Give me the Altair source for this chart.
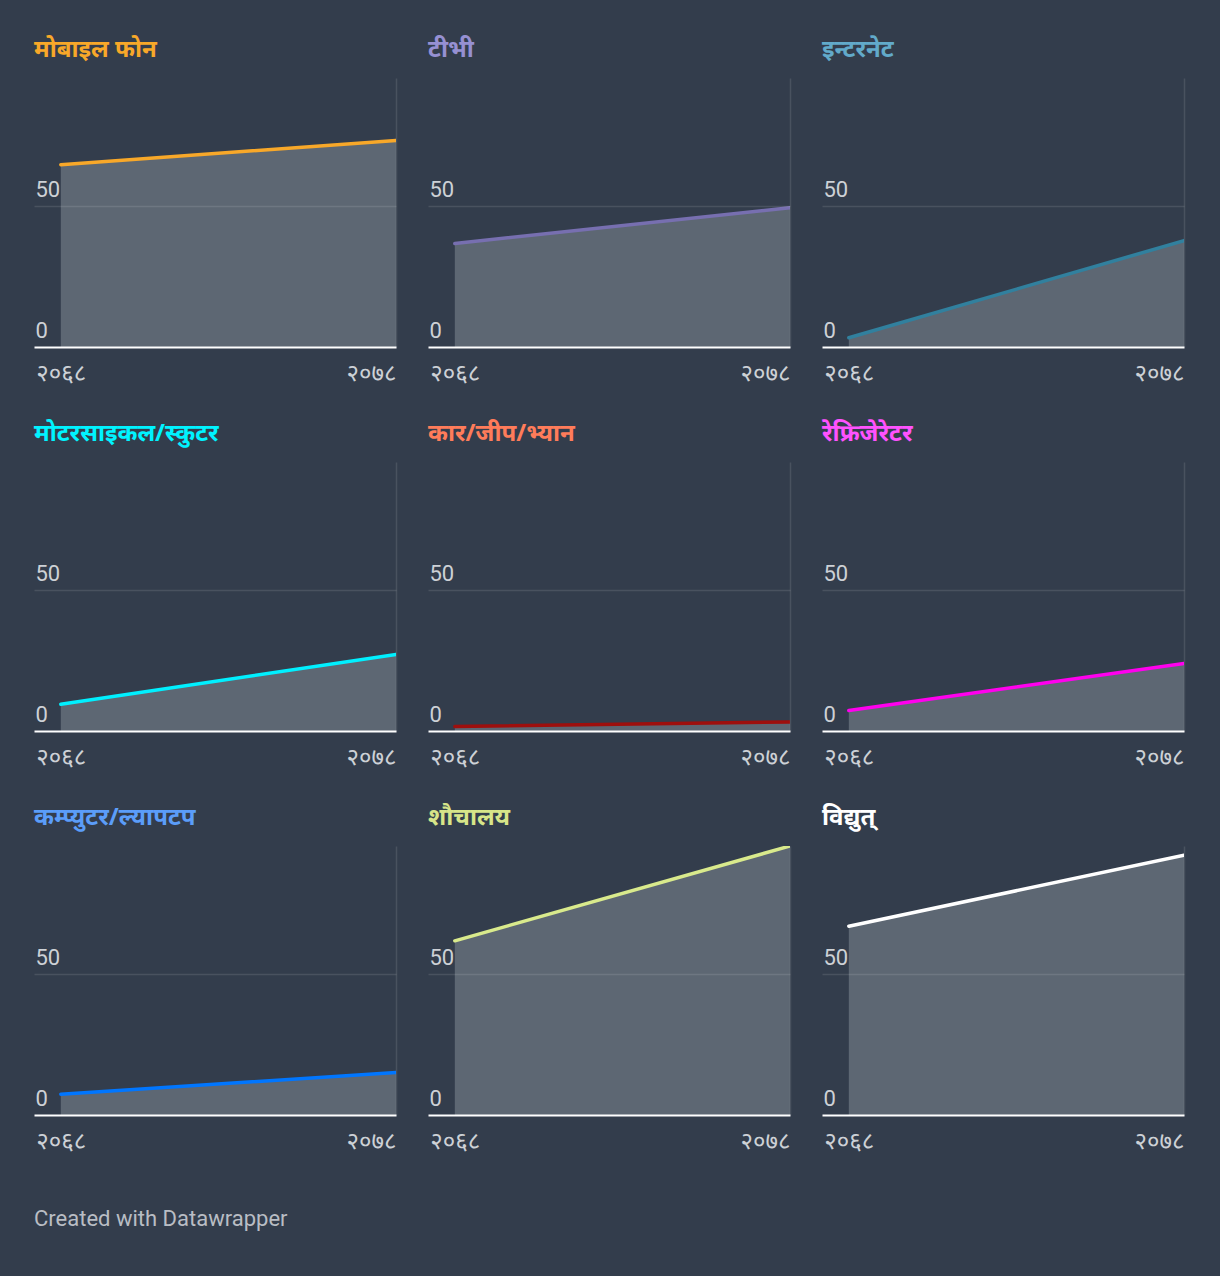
import altair as alt
import pandas as pd

categories = ["मोबाइल फोन", "टीभी", "इन्टरनेट", "मोटरसाइकल/स्कुटर", "कार/जीप/भ्यान",
              "रेफ्रिजेरेटर", "कम्प्युटर/ल्यापटप", "शौचालय", "विद्युत्"]
years = [2068, 2078]
year_labels = ["२०६८", "२०७८"]
values_2068 = [64.8, 36.8, 3.3, 9.5, 1.6, 7.3, 7.4, 61.9, 67.1]
values_2078 = [73.4, 49.5, 37.8, 27.2, 3.2, 24.0, 15.1, 95.6, 92.3]
title_colors = ["#f8a829", "#9690d2", "#62aaca", "#00f3ff", "#ff7c5a",
                "#ff52ff", "#5b9df9", "#d7e589", "#ffffff"]
line_colors = ["#f8a829", "#776fb0", "#31809e", "#00f0ff", "#9e0f0d",
               "#ff00ee", "#0076ff", "#d9ea8c", "#ffffff"]
y_ticks = [0, 50]

BG = "#333d4c"
AREA = "#5d6773"
LABEL = "#cdd1d6"
GRID = "rgba(255,255,255,0.11)"

ymax = max(values_2068 + values_2078)
label_expr = f"datum.value == {years[0]} ? '{year_labels[0]}' : '{year_labels[1]}'"

charts = []
for i, cat in enumerate(categories):
    df = pd.DataFrame({"year": years, "value": [values_2068[i], values_2078[i]]})
    xenc = alt.X(
        "year:Q",
        scale=alt.Scale(domain=[years[0] - 0.8, years[1]], nice=False, zero=False),
        axis=alt.Axis(
            values=years, title=None, domain=False, ticks=False, tickSize=0,
            labelExpr=label_expr, labelFont="Noto Sans", labelFontSize=24,
            labelColor=LABEL, labelPadding=14, labelFlush=False,
            labelAlign=alt.expr(f"datum.value == {years[0]} ? 'left' : 'right'"),
            labelOffset=alt.expr(f"datum.value == {years[0]} ? -25 : 0"),
            grid=True, gridColor=GRID, gridWidth=1.5,
            gridOpacity=alt.expr(f"datum.value == {years[1]} ? 1 : 0"),
            zindex=1,
        ),
    )
    yenc = alt.Y(
        "value:Q",
        scale=alt.Scale(domain=[0, ymax], nice=False),
        axis=alt.Axis(
            values=y_ticks, title=None, domain=False, ticks=False, tickSize=0,
            labelAlign="left", labelBaseline="alphabetic", labelPadding=-1,
            labelOffset=-10, labelFont="Roboto", labelFontSize=22,
            labelColor=LABEL, labelFlush=False,
            grid=True,
            gridColor=alt.expr(f"datum.value == 0 ? '#ffffff' : '{GRID}'"),
            gridWidth=alt.expr("datum.value == 0 ? 2 : 1.5"),
            zindex=1,
        ),
    )
    base = alt.Chart(df)
    area = base.mark_area(color=AREA, opacity=1, clip=True).encode(x=xenc, y=yenc)
    line = base.mark_line(color=line_colors[i], strokeWidth=3.5, strokeCap="round",
                          clip=True).encode(x="year:Q", y="value:Q")
    c = alt.layer(area, line).properties(
        width=362, height=269,
        title=alt.TitleParams(
            cat, color=title_colors[i], fontSize=24, fontWeight="bold",
            font="Noto Sans", anchor="start", offset=16,
        ),
    )
    charts.append(c)

chart = alt.concat(*charts, columns=3, spacing=alt.RowColnumber(row=37, column=32)).properties(
    background=BG,
    padding={"left": 26, "top": 30, "right": 10, "bottom": 30},
    title=alt.TitleParams(
        "Created with Datawrapper", orient="bottom", anchor="start",
        color="#b9bdc4", fontSize=22, fontWeight="normal", font="Roboto", offset=56,
    ),
).configure_view(stroke=None)

TEMPLATE_SRC = """<!DOCTYPE html>
<html>
<head>
  <meta charset="UTF-8">
  <style>
    html, body { background: %s; }
    #{{ output_div }}.vega-embed { width: 100%%; display: flex; }
  </style>
  <script type="text/javascript" src="{{ base_url }}/vega@{{ vega_version }}"></script>
  <script type="text/javascript" src="{{ base_url }}/vega-lite@{{ vegalite_version }}"></script>
  <script type="text/javascript" src="{{ base_url }}/vega-embed@{{ vegaembed_version }}"></script>
</head>
<body>
  <div id="{{ output_div }}"></div>
  <script>
    (function(vegaEmbed) {
      var spec = {{ spec }};
      var embedOpt = {{ embed_options }};
      vegaEmbed("#{{ output_div }}", spec, embedOpt).catch(console.error);
    })(vegaEmbed);
  </script>
</body>
</html>
""" % BG

try:
    import jinja2
    tpl = jinja2.Template(TEMPLATE_SRC)
    chart.save("out.html", embed_options={"renderer": "svg", "actions": False}, template=tpl)
except Exception:
    chart.save("out.html", embed_options={"renderer": "svg", "actions": False})
